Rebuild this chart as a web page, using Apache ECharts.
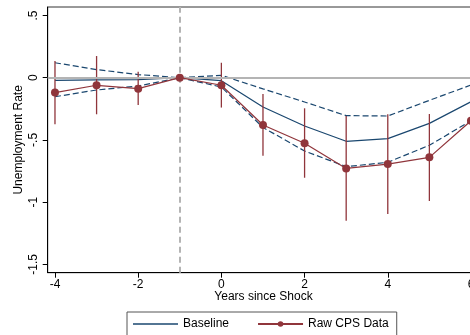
<!DOCTYPE html>
<html><head><meta charset="utf-8">
<script src="https://cdn.jsdelivr.net/npm/echarts@6/dist/echarts.min.js"></script>
<style>html,body{margin:0;padding:0;background:#fff}#c{width:470px;height:335px}</style>
</head><body><div id="c"></div>
<script>
const years = [-4,-3,-2,-1,0,1,2,3,4,5,6];
const baseline = [-0.021,-0.018,-0.015,0,-0.024,-0.235,-0.388,-0.511,-0.49,-0.367,-0.193];
const baselineUpper = [0.12,0.065,0.025,0,0.019,-0.09,-0.195,-0.305,-0.308,-0.182,-0.059];
const baselineLower = [-0.153,-0.099,-0.067,0,-0.075,-0.40,-0.589,-0.715,-0.68,-0.543,-0.346];
const rawCPS = [-0.12,-0.061,-0.088,0,-0.061,-0.38,-0.527,-0.729,-0.694,-0.64,-0.346];
const rawHi = [0.134,0.174,0.048,null,0.12,-0.131,-0.246,-0.308,-0.294,-0.292,null];
const rawLo = [-0.375,-0.294,-0.219,null,-0.24,-0.627,-0.804,-1.149,-1.096,-0.991,null];
const xTicks = [-4,-2,0,2,4,6];
const yTicks = [-1.5,-1,-0.5,0,0.5];
const yTickLabels = ['-1.5','-1','-.5','0','.5'];

const blue = '#1a476f', red = '#90353b';
const pair = a => years.map((x,i)=>[x,a[i]]);
const ciData = years.map((x,i)=>[x,rawLo[i],rawHi[i]]).filter(d=>d[1]!==null);

const chart = echarts.init(document.getElementById('c'));
chart.setOption({
  animation:false,
  textStyle:{fontFamily:'Liberation Sans, Arial, sans-serif'},
  grid:{left:47.7,top:7,width:431.6,height:265.7,show:true,borderColor:'#333',borderWidth:1,
    outerBoundsMode:'none',containLabel:false},
  xAxis:{type:'value',min:-4.175,max:6.2,
    name:'Years since Shock',nameLocation:'middle',nameGap:18,nameMoveOverlap:false,
    nameTextStyle:{fontSize:12,color:'#000',verticalAlign:'top'},
    axisLine:{onZero:false,lineStyle:{color:'#000',width:1}},
    axisTick:{customValues:xTicks,length:5,lineStyle:{color:'#000'}},
    axisLabel:{customValues:xTicks,fontSize:12,color:'#000',margin:6,formatter:v=>String(v)},
    splitLine:{show:false}},
  yAxis:{type:'value',min:-1.567,max:0.568,
    name:'Unemployment Rate',nameLocation:'middle',nameGap:23,nameRotate:90,nameMoveOverlap:false,
    nameTextStyle:{fontSize:12,color:'#000'},
    axisLine:{onZero:false,lineStyle:{color:'#000',width:1}},
    axisTick:{customValues:yTicks,length:5,lineStyle:{color:'#000'}},
    axisLabel:{customValues:yTicks,fontSize:12,color:'#000',margin:8,rotate:90,
      formatter:v=>{const i=yTicks.findIndex(t=>Math.abs(t-v)<1e-6);return i>=0?yTickLabels[i]:'';}},
    splitLine:{show:false}},
  legend:{data:[{name:'Baseline',icon:'path://M0,0H45V1.4H0Z'},{name:'Raw CPS Data'}],left:127,top:312,orient:'horizontal',
    itemWidth:45,itemHeight:7,itemGap:28,
    borderColor:'#555',borderWidth:1,padding:[6,8,20,6],
    textStyle:{fontSize:12,color:'#000'}},
  series:[
    {name:'Baseline',type:'line',data:pair(baseline),symbol:'none',
      lineStyle:{color:blue,width:1.2},itemStyle:{color:blue},z:3,
      markLine:{silent:true,symbol:'none',label:{show:false},
        data:[{yAxis:0,lineStyle:{color:'#b4b4b4',width:2,type:'solid'}},
              {xAxis:-1,lineStyle:{color:'#b4b4b4',width:2,type:[6,4]}}]}},
    {name:'upper',type:'line',data:pair(baselineUpper),symbol:'none',
      lineStyle:{color:blue,width:1.2,type:[6,3]},z:3},
    {name:'lower',type:'line',data:pair(baselineLower),symbol:'none',
      lineStyle:{color:blue,width:1.2,type:[6,3]},z:3},
    {name:'ci',type:'custom',data:ciData,z:4,
      renderItem:(params,api)=>{
        const p1=api.coord([api.value(0),api.value(1)]);
        const p2=api.coord([api.value(0),api.value(2)]);
        return {type:'line',shape:{x1:p1[0],y1:p1[1],x2:p2[0],y2:p2[1]},
          style:{stroke:red,lineWidth:1.3}};
      }},
    {name:'Raw CPS Data',type:'line',data:pair(rawCPS),symbol:'circle',symbolSize:8,
      lineStyle:{color:red,width:1.2},itemStyle:{color:red},z:5}
  ]
});
</script></body></html>
